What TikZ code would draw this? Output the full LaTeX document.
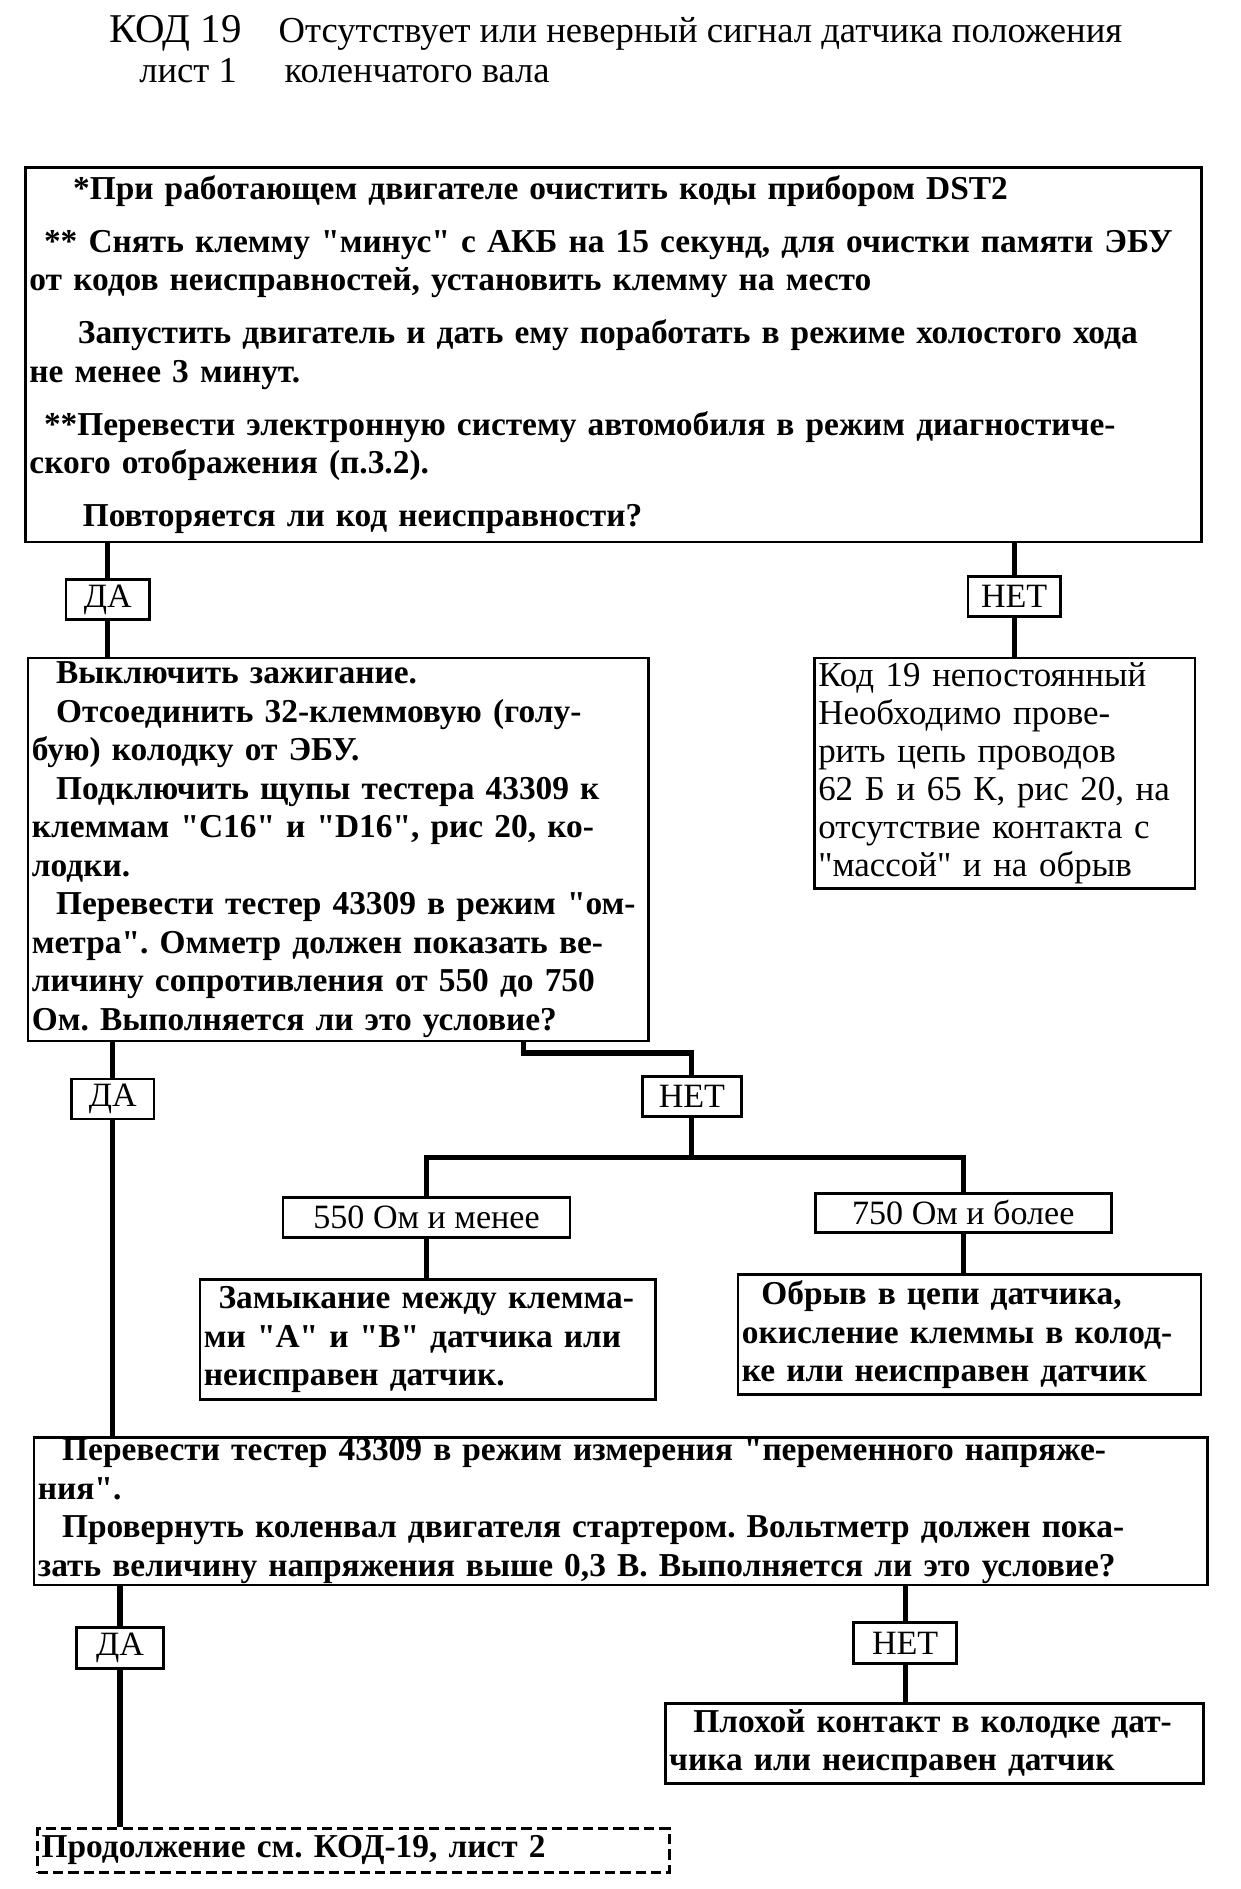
\documentclass[tikz,border=0pt]{standalone}
\usepackage{fontspec}
\setmainfont{Liberation Serif}[Ligatures=TeXOff]
\usetikzlibrary{positioning}
\frenchspacing
\tikzset{
  blk/.style={draw, line width=1.6pt, anchor=north west, align=left,
    inner xsep=0.08cm, inner ysep=0pt,
    font=\bfseries\fontsize{19.6}{22.6}\selectfont},
  thinblk/.style={blk, font=\fontsize{20.5}{22.2}\selectfont},
  tag/.style={draw, line width=1.6pt, inner sep=0pt,
    font=\fontsize{20}{22}\selectfont},
  link/.style={line width=3pt},
}
\begin{document}
\begin{tikzpicture}[x=0.025cm,y=-0.025cm]
  \useasboundingbox (0,0) rectangle (1024,1559);
  % title
  \node[anchor=base west, font=\fontsize{24}{26}\selectfont] (kod) at (85,35) {КОД 19};
  \node[anchor=base west, font=\fontsize{21.5}{24}\selectfont] (ttl) at (225,35) {Отсутствует или неверный сигнал датчика положения};
  \node[anchor=base west, font=\fontsize{21.5}{24}\selectfont] (sht) at (110,68) {лист 1};
  \node[anchor=base west, font=\fontsize{21.5}{24}\selectfont] (ttl2) at (230,68) {коленчатого вала};

  % first check
  \node[blk, text width=24.09cm, minimum height=7.725cm] (chk) at (20,137) {%
    \hspace*{0.9cm}*При работающем двигателе очистить коды прибором DST2\\[0.3cm]
    \hspace*{0.3cm}** Снять клемму "минус" с АКБ на 15 секунд, для очистки памяти ЭБУ\\
    от кодов неисправностей, установить клемму на место\\[0.3cm]
    \hspace*{1cm}Запустить двигатель и дать ему поработать в режиме холостого хода\\
    не менее 3 минут.\\[0.3cm]
    \hspace*{0.3cm}**Перевести электронную систему автомобиля в режим диагностиче-\\
    ского отображения (п.3.2).\\[0.3cm]
    \hspace*{1.1cm}Повторяется ли код неисправности?};
  \node[tag, minimum width=1.725cm, minimum height=0.825cm] (da1) at (89,495) {ДА};
  \node[tag, minimum width=1.9cm, minimum height=0.825cm] (net1) at (837,492) {НЕТ};

  % resistance
  \node[blk, text width=12.64cm, minimum height=7.9cm] (ohm) at (22,542) {%
    \hspace*{0.5cm}Выключить зажигание.\\
    \hspace*{0.5cm}Отсоединить 32-клеммовую (голу-\\
    бую) колодку от ЭБУ.\\
    \hspace*{0.5cm}Подключить щупы тестера 43309 к\\
    клеммам "C16" и "D16", рис 20, ко-\\
    лодки.\\
    \hspace*{0.5cm}Перевести тестер 43309 в режим "ом-\\
    метра". Омметр должен показать ве-\\
    личину сопротивления от 550 до 750\\
    Ом. Выполняется ли это условие?};
  \node[thinblk, text width=7.69cm, minimum height=4.75cm] (rare) at (671,542) {%
    Код 19 непостоянный\\
    Необходимо прове-\\
    рить цепь проводов\\
    62 Б и 65 К, рис 20, на\\
    отсутствие контакта с\\
    "массой" и на обрыв};
  \node[tag, minimum width=1.7cm, minimum height=0.825cm] (da2) at (93,907) {ДА};
  \node[tag, minimum width=2.05cm, minimum height=0.825cm] (net2) at (571,905) {НЕТ};
  \coordinate (turn) at (432,869);
  \coordinate (fork) at (571,955);

  \node[tag, minimum width=5.925cm, minimum height=0.825cm] (lo) at (352,1005) {550 Ом и менее};
  \node[tag, minimum width=6.1cm, minimum height=0.8cm] (hi) at (795,1001) {750 Ом и более};
  \node[blk, text width=9.24cm, minimum height=2.475cm] (shrt) at (164,1055) {%
    \hspace*{0.3cm}Замыкание между клемма-\\
    ми "A" и "B" датчика или\\
    неисправен датчик.};
  \node[blk, text width=9.39cm, minimum height=2.475cm] (brk) at (608,1051) {%
    \hspace*{0.4cm}Обрыв в цепи датчика,\\
    окисление клеммы в колод-\\
    ке или неисправен датчик};

  % voltage
  \node[blk, text width=24.04cm, minimum height=3.05cm] (volt) at (27,1185) {%
    \hspace*{0.5cm}Перевести тестер 43309 в режим измерения "переменного напряже-\\
    ния".\\
    \hspace*{0.5cm}Провернуть коленвал двигателя стартером. Вольтметр должен пока-\\
    зать величину напряжения выше 0,3 В. Выполняется ли это условие?};
  \node[tag, minimum width=1.8cm, minimum height=0.85cm] (da3) at (99,1360) {ДА};
  \node[tag, minimum width=2.125cm, minimum height=0.85cm] (net3) at (747,1356) {НЕТ};
  \node[blk, text width=10.94cm, minimum height=1.65cm] (bad) at (548,1405) {%
    \hspace*{0.5cm}Плохой контакт в колодке дат-\\
    чика или неисправен датчик};
  \node[blk, dash pattern=on 6pt off 3pt, text width=12.865cm, minimum height=0.9cm] (next) at (30,1508) {%
    Продолжение см. КОД-19, лист 2};

  % connectors
  \draw[link] (chk.south -| da1) -- (da1.north);
  \draw[link] (da1.south) -- (da1 |- ohm.north);
  \draw[link] (chk.south -| net1) -- (net1.north);
  \draw[link] (net1.south) -- (net1 |- rare.north);
  \draw[link] (ohm.south -| da2) -- (da2.north);
  \draw[link] (da2.south) -- (da2 |- volt.north);
  \draw[link] (ohm.south -| turn) -- (turn) -| (net2.north);
  \draw[link] (net2.south) -- (fork);
  \draw[link] (lo.north) |- (fork) -| (hi.north);
  \draw[link] (lo.south) -- (lo |- shrt.north);
  \draw[link] (hi.south) -- (hi |- brk.north);
  \draw[link] (volt.south -| da3) -- (da3.north);
  \draw[link] (da3.south) -- (da3 |- next.north);
  \draw[link] (volt.south -| net3) -- (net3.north);
  \draw[link] (net3.south) -- (net3 |- bad.north);
\end{tikzpicture}
\end{document}
